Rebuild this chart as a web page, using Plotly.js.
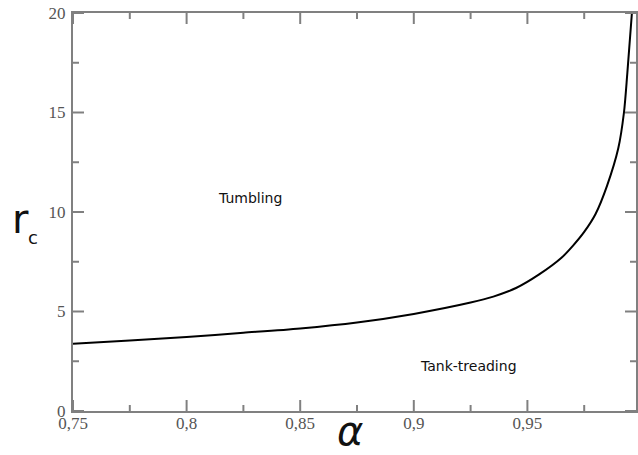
<!DOCTYPE html>
<html>
<head>
<meta charset="utf-8">
<script src="https://cdn.plot.ly/plotly-3.0.1.min.js"></script>
<style>html,body{margin:0;padding:0;background:#fff;}#chart{width:638px;height:455px;}</style>
</head>
<body>
<div id="chart"></div>
<script>
// Data
var alpha = [0.75, 0.775, 0.80, 0.825, 0.85, 0.875, 0.90, 0.925, 0.935, 0.945, 0.955, 0.965, 0.97, 0.975, 0.98, 0.985, 0.99, 0.9925, 0.994, 0.996];
var rc    = [3.38, 3.54, 3.72, 3.93, 4.15, 4.45, 4.88, 5.45, 5.75, 6.18, 6.85, 7.70, 8.30, 9.00, 9.90, 11.3, 13.2, 15.0, 17.0, 20.0];
var xTickVals  = [0.75, 0.8, 0.85, 0.9, 0.95];
var xMinorVals = [0.775, 0.825, 0.875, 0.925, 0.975];
var yTickVals  = [0, 5, 10, 15, 20];
var yMinorVals = [2.5, 7.5, 12.5, 17.5];
var regionLabels = ["Tumbling", "Tank-treading"];
var regionX = [0.828, 0.9242];
var regionY = [10.71, 2.25];

var axisColor = "#808080";
var tickFont = {family: "Liberation Serif", size: 17, color: "#555"};
var MAJOR = 11, MINOR = 6;

var trace = {
  x: alpha, y: rc, type: "scatter", mode: "lines",
  line: {color: "#000", width: 2, shape: "spline", smoothing: 0.8}, hoverinfo: "skip"
};

// tick marks on all four sides (inside), built from the tick arrays
var shapes = [];
function xTicks(vals, len) {
  vals.forEach(function (v) {
    shapes.push({type: "line", xref: "x", yref: "paper", ysizemode: "pixel", yanchor: 0,
      x0: v, x1: v, y0: 0, y1: len, line: {color: axisColor, width: 2}});
    shapes.push({type: "line", xref: "x", yref: "paper", ysizemode: "pixel", yanchor: 1,
      x0: v, x1: v, y0: 0, y1: -len, line: {color: axisColor, width: 2}});
  });
}
function yTicks(vals, len) {
  vals.forEach(function (v) {
    shapes.push({type: "line", xref: "paper", yref: "y", xsizemode: "pixel", xanchor: 0,
      x0: 0, x1: len, y0: v, y1: v, line: {color: axisColor, width: 2}});
    shapes.push({type: "line", xref: "paper", yref: "y", xsizemode: "pixel", xanchor: 1,
      x0: 0, x1: -len, y0: v, y1: v, line: {color: axisColor, width: 2}});
  });
}
xTicks(xTickVals, MAJOR); xTicks(xMinorVals, MINOR);
yTicks(yTickVals, MAJOR); yTicks(yMinorVals, MINOR);

var annotations = [];
for (var i = 0; i < regionLabels.length; i++) {
  annotations.push({x: regionX[i], y: regionY[i], xref: "x", yref: "y", text: regionLabels[i],
    showarrow: false, xanchor: "center", yanchor: "middle",
    font: {family: "DejaVu Sans", size: 14, color: "#111"}});
}
annotations.push({x: 0.492, y: -0.051, xref: "paper", yref: "paper", text: "<i>α</i>", showarrow: false,
  xanchor: "center", yanchor: "middle", font: {family: "DejaVu Sans", size: 40, color: "#111"}});
annotations.push({x: -0.0924, y: 0.482, xref: "paper", yref: "paper", text: "r", showarrow: false,
  xanchor: "center", yanchor: "middle", font: {family: "DejaVu Sans", size: 40, color: "#111"}});
annotations.push({x: -0.071, y: 0.437, xref: "paper", yref: "paper", text: "c", showarrow: false,
  xanchor: "center", yanchor: "middle", font: {family: "DejaVu Sans", size: 18, color: "#111"}});

var layout = {
  width: 638, height: 455,
  margin: {l: 73, r: 2, t: 13, b: 44, pad: 0},
  paper_bgcolor: "#fff", plot_bgcolor: "#fff",
  separators: ", ",
  showlegend: false,
  xaxis: {
    range: [0.75, 0.9978], tickmode: "array", tickvals: xTickVals,
    showgrid: false, zeroline: false, showline: true, linecolor: axisColor, linewidth: 2,
    mirror: true, ticks: "", ticklabelstandoff: -4,
    tickfont: tickFont
  },
  yaxis: {
    range: [0, 20], tickmode: "array", tickvals: yTickVals,
    showgrid: false, zeroline: false, showline: true, linecolor: axisColor, linewidth: 2,
    mirror: true, ticks: "", ticklabelstandoff: 2,
    tickfont: tickFont
  },
  shapes: shapes,
  annotations: annotations
};

Plotly.newPlot("chart", [trace], layout, {displayModeBar: false});
</script>
</body>
</html>
